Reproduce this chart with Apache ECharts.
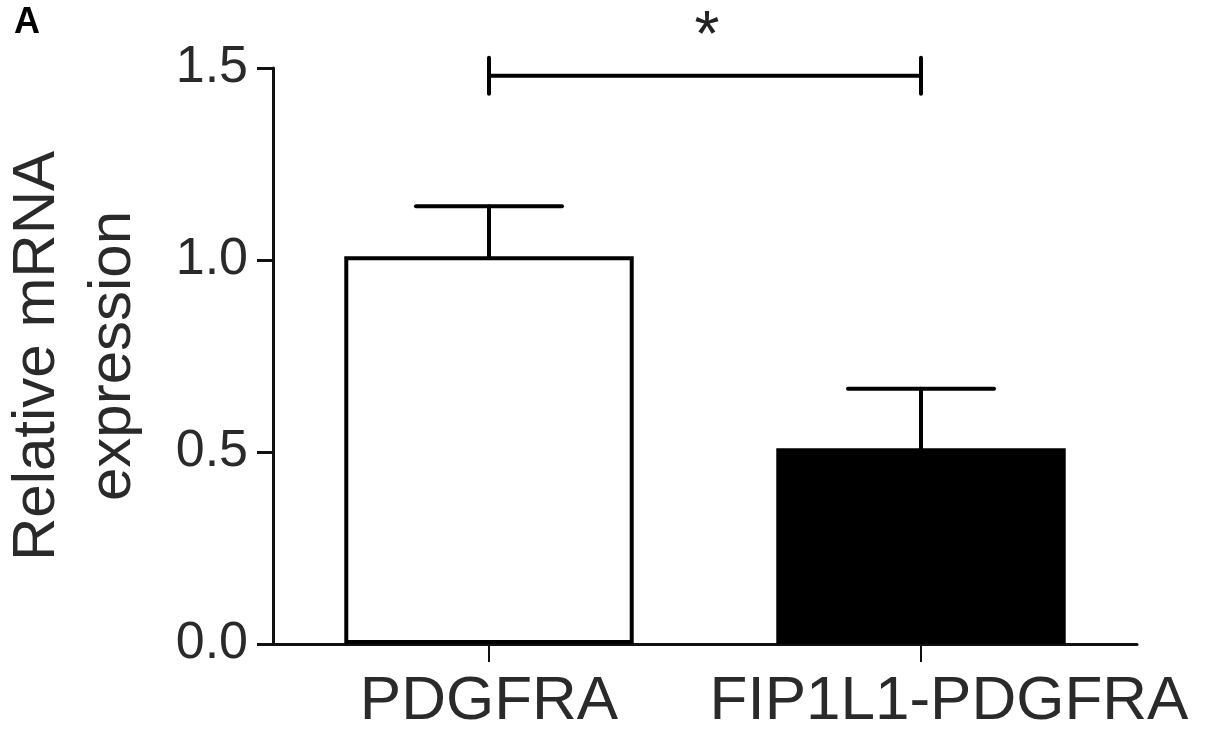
<!DOCTYPE html>
<html>
<head>
<meta charset="utf-8">
<style>
    html, body { margin: 0; padding: 0; background: #fff; }
    #chart { width: 1205px; height: 741px; }
</style>
<script src="https://cdn.jsdelivr.net/npm/echarts@6/dist/echarts.min.js"></script>
</head>
<body>
<div id="chart"></div>
<script>
    // data
    var categories = ['PDGFRA', 'FIP1L1-PDGFRA'];
    var means = [1.01, 0.51];
    var sem = [0.13, 0.155];
    var yTicks = [0, 0.5, 1.0, 1.5];
    var bracketPair = [0, 1];
    var bracketLevel = 1.48;
    var bracketMark = '*';

    var fills = ['#ffffff', '#000000'];
    var labelShift = [0, 56]; // second label sits a bit right of its tick
    var font = '"Liberation Sans", Arial, sans-serif';

    var chart = echarts.init(document.getElementById('chart'));

    var option = {
        animation: false,
        backgroundColor: '#fff',
        title: {
            text: 'A',
            left: 9,
            top: 0,
            textStyle: {fontFamily: font, fontSize: 36, fontWeight: 'bold', color: '#000'}
        },
        grid: {left: 273, right: 68, top: 68, bottom: 97, outerBoundsMode: 'none'},
        xAxis: {
            type: 'category',
            data: categories.map(function (c, i) {
                return {value: c, textStyle: {padding: [0, 0, 0, labelShift[i]]}};
            }),
            boundaryGap: true,
            axisLine: {show: true, lineStyle: {color: '#111', width: 3}},
            axisTick: {show: true, alignWithLabel: true, length: 18, lineStyle: {color: '#111', width: 2}},
            axisLabel: {fontFamily: font, fontSize: 62, color: '#2a2a2a', margin: 27, interval: 0, hideOverlap: false}
        },
        yAxis: {
            type: 'value',
            min: yTicks[0],
            max: yTicks[yTicks.length - 1],
            interval: 0.5,
            name: 'Relative mRNA\nexpression',
            nameLocation: 'middle',
            nameRotate: 90,
            nameGap: 122,
            nameTextStyle: {fontFamily: font, fontSize: 60, color: '#2a2a2a', lineHeight: 76, align: 'center'},
            splitLine: {show: false},
            axisLine: {show: true, lineStyle: {color: '#111', width: 3}},
            axisTick: {show: true, length: 16, lineStyle: {color: '#111', width: 3}},
            axisLabel: {
                fontFamily: font, fontSize: 52, color: '#2a2a2a', margin: 25,
                formatter: function (v) { return v.toFixed(1); }
            }
        },
        series: [
            {
                type: 'bar',
                barWidth: '67%',
                z: 2,
                data: means.map(function (m, i) {
                    return {value: m, itemStyle: {color: fills[i]}};
                }),
                itemStyle: {borderColor: '#000', borderWidth: 4}
            },
            {
                // error bars (upper only)
                type: 'custom',
                z: 3,
                data: means.map(function (m, i) { return [i, m, m + sem[i]]; }),
                encode: {x: 0, y: [1, 2]},
                renderItem: function (params, api) {
                    var base = api.coord([api.value(0), api.value(1)]);
                    var top = api.coord([api.value(0), api.value(2)]);
                    var half = 73;
                    var st = {stroke: '#000', lineWidth: 4, lineCap: 'round'};
                    return {
                        type: 'group',
                        children: [
                            {type: 'line', shape: {x1: base[0], y1: base[1], x2: top[0], y2: top[1]}, style: st},
                            {type: 'line', shape: {x1: top[0] - half, y1: top[1], x2: top[0] + half, y2: top[1]}, style: st}
                        ]
                    };
                }
            },
            {
                // significance bracket
                type: 'custom',
                z: 3,
                data: [[bracketPair[0], bracketPair[1], bracketLevel]],
                encode: {x: [0, 1], y: 2},
                renderItem: function (params, api) {
                    var a = api.coord([api.value(0), api.value(2)]);
                    var b = api.coord([api.value(1), api.value(2)]);
                    var cap = 18;
                    var st = {stroke: '#000', lineWidth: 4, lineCap: 'round'};
                    return {
                        type: 'group',
                        children: [
                            {type: 'line', shape: {x1: a[0], y1: a[1], x2: b[0], y2: b[1]}, style: st},
                            {type: 'line', shape: {x1: a[0], y1: a[1] - cap, x2: a[0], y2: a[1] + cap}, style: st},
                            {type: 'line', shape: {x1: b[0], y1: b[1] - cap, x2: b[0], y2: b[1] + cap}, style: st},
                            {
                                type: 'text',
                                x: (a[0] + b[0]) / 2 + 2,
                                y: a[1] - 69,
                                style: {
                                    text: bracketMark, fontFamily: font, fontSize: 64, fill: '#222',
                                    align: 'center', verticalAlign: 'top'
                                }
                            }
                        ]
                    };
                }
            }
        ]
    };

    chart.setOption(option);
</script>
</body>
</html>
